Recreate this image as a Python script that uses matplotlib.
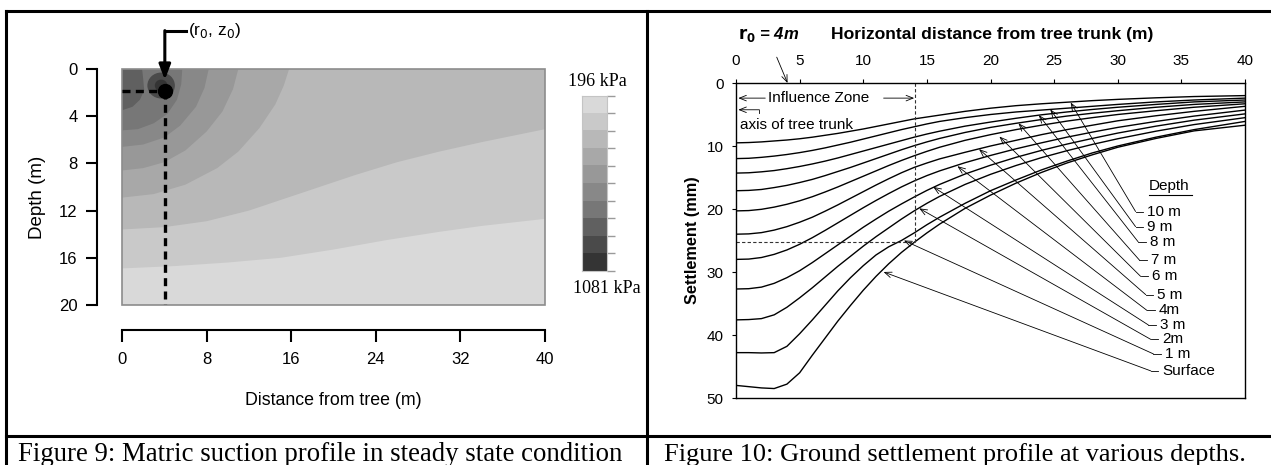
import numpy as np
import matplotlib.pyplot as plt
from matplotlib.lines import Line2D
from matplotlib.patches import Ellipse, Rectangle
from matplotlib.colors import ListedColormap

plt.rcParams['font.family'] = ['Liberation Sans', 'DejaVu Sans']

W, H = 1271, 465

# ---------------- Figure 9 data (distance m, depth m) ----------------
band_colors = ['#d9d9d9', '#c9c9c9', '#b8b8b8', '#a8a8a8', '#989898',
               '#888888', '#777777', '#606060', '#4a4a4a', '#343434']
# boundaries from the deepest to the shallowest; each runs from the left edge
b7 = ([0, 5, 10, 15, 20, 25, 30, 34, 40], [16.9, 16.7, 16.4, 16.0, 15.3, 14.5, 13.8, 13.3, 12.7])
b6 = ([0, 4, 8, 12, 17, 22, 26, 30, 34, 40], [13.6, 13.4, 12.9, 12.0, 10.5, 9.0, 7.9, 7.0, 6.2, 5.1])
b5 = ([0, 3, 6, 9, 11, 13, 14.5, 15.3, 15.8], [10.9, 10.6, 9.8, 8.4, 7.0, 5.0, 3.0, 1.4, 0])
b4 = ([0, 2, 4, 6, 8, 9.5, 10.5, 11.0], [8.6, 8.4, 7.9, 6.9, 5.3, 3.6, 1.7, 0])
b3 = ([0, 2, 4, 5.5, 7, 7.8, 8.2], [6.6, 6.4, 5.8, 4.8, 3.2, 1.6, 0])
b2 = ([0, 1.5, 3, 4.3, 5.2, 5.6, 5.7], [5.2, 5.1, 4.6, 3.8, 2.6, 1.3, 0])
b1 = ([0, 1.0, 1.7, 2.1, 2.0, 1.9], [3.5, 3.2, 2.6, 1.8, 0.8, 0])
boundaries = [b7, b6, b5, b4, b3, b2, b1]
ring_center = (3.7, 1.4)
ring_sizes = [(2.6, 2.2), (1.2, 1.0)]
r0, z0 = 4.05, 1.86
x_ticks_9 = [0, 8, 16, 24, 32, 40]
y_ticks_9 = [0, 4, 8, 12, 16, 20]

# ---------------- Figure 10 data (distance m, settlement mm) ----------------
x_pos = [0, 1, 2, 3, 4, 5, 6, 7, 8, 9, 10, 11, 12, 13, 14, 15, 16, 18, 20, 22, 24, 26, 28, 30, 33, 36, 40]
depth_names = ['10 m', '9 m', '8 m', '7 m', '6 m', '5 m', '4m', '3 m', '2m', '1 m', 'Surface']
settle = [
    [9.5, 9.45, 9.35, 9.2, 9.05, 8.85, 8.6, 8.3, 8.0, 7.65, 7.3, 6.9, 6.5, 6.1, 5.7, 5.4, 5.1, 4.5, 4.0, 3.6, 3.3, 3.05, 2.8, 2.6, 2.35, 2.15, 2.0],
    [12.0, 11.95, 11.8, 11.6, 11.35, 11.05, 10.7, 10.3, 9.85, 9.4, 8.9, 8.4, 7.9, 7.4, 6.95, 6.5, 6.1, 5.5, 5.0, 4.6, 4.3, 4.0, 3.7, 3.4, 3.0, 2.7, 2.4],
    [14.3, 14.25, 14.1, 13.9, 13.6, 13.25, 12.85, 12.4, 11.9, 11.35, 10.8, 10.25, 9.7, 9.15, 8.6, 8.1, 7.65, 6.85, 6.2, 5.6, 5.05, 4.6, 4.2, 3.85, 3.4, 3.0, 2.7],
    [17.1, 17.05, 16.9, 16.6, 16.25, 15.8, 15.3, 14.7, 14.05, 13.4, 12.7, 12.0, 11.3, 10.6, 9.95, 9.35, 8.8, 7.85, 7.05, 6.4, 5.8, 5.25, 4.8, 4.4, 3.85, 3.4, 3.0],
    [20.3, 20.25, 20.05, 19.7, 19.25, 18.7, 18.05, 17.3, 16.5, 15.65, 14.8, 13.95, 13.1, 12.3, 11.55, 10.85, 10.2, 9.1, 8.2, 7.4, 6.7, 6.05, 5.5, 5.0, 4.4, 3.85, 3.3],
    [24.0, 23.95, 23.75, 23.35, 22.8, 22.1, 21.3, 20.35, 19.35, 18.3, 17.25, 16.2, 15.2, 14.25, 13.4, 12.7, 12.05, 11.0, 10.0, 9.1, 8.2, 7.4, 6.7, 6.0, 5.2, 4.5, 3.7],
    [28.0, 27.95, 27.7, 27.2, 26.5, 25.6, 24.55, 23.4, 22.2, 21.0, 19.8, 18.65, 17.55, 16.5, 15.55, 14.7, 13.95, 12.65, 11.5, 10.45, 9.5, 8.6, 7.8, 7.05, 6.1, 5.25, 4.3],
    [32.7, 32.65, 32.4, 31.8, 30.9, 29.8, 28.5, 27.1, 25.7, 24.3, 22.9, 21.6, 20.35, 19.2, 18.1, 17.05, 16.1, 14.45, 13.05, 11.8, 10.7, 9.7, 8.8, 7.95, 6.85, 5.9, 4.9],
    [37.6, 37.55, 37.4, 36.8, 35.6, 34.1, 32.5, 30.8, 29.1, 27.5, 25.9, 24.4, 23.0, 21.6, 20.3, 19.1, 18.0, 16.1, 14.5, 13.1, 11.85, 10.75, 9.75, 8.85, 7.65, 6.6, 5.5],
    [42.8, 42.8, 42.85, 42.8, 41.8, 39.8, 37.6, 35.3, 33.0, 30.9, 29.0, 27.3, 26.0, 25.0, 23.8, 22.5, 21.3, 19.1, 17.1, 15.4, 13.8, 12.4, 11.1, 10.0, 8.6, 7.4, 6.1],
    [48.0, 48.2, 48.4, 48.5, 47.8, 46.0, 43.2, 40.5, 37.8, 35.3, 32.9, 30.7, 28.7, 26.9, 25.3, 23.8, 22.4, 19.9, 17.8, 15.9, 14.2, 12.7, 11.4, 10.2, 8.8, 7.6, 6.7],
]
tips = [(26.3, 3.1), (24.7, 4.2), (23.8, 5.1), (22.2, 6.4), (20.7, 8.5), (19.1, 10.5),
        (17.4, 13.2), (15.5, 16.5), (14.4, 19.9), (13.2, 25.0), (11.6, 30.0)]
label_y = [20.4, 22.8, 25.2, 28.1, 30.7, 33.6, 36.1, 38.4, 40.7, 43.0, 45.7]
label_x = [31.4, 31.4, 31.6, 31.7, 31.8, 32.2, 32.3, 32.4, 32.6, 32.8, 32.6]
zone_x, zone_y = 14.1, 25.3


def rect(x0, y0, x1, y1):
    return [x0 / W, 1 - y1 / H, (x1 - x0) / W, (y1 - y0) / H]


fig = plt.figure(figsize=(W / 100, H / 100), dpi=100)

# table borders
for xs, ys in [((6, 1271), (11, 11)), ((6, 6), (11, 465)), ((647, 647), (11, 465)),
               ((6, 1271), (436, 436))]:
    fig.add_artist(Line2D([x / W for x in xs], [1 - y / H for y in ys], color='black', lw=2.2))

fig.text(320 / W, 1 - 461 / H, 'Figure 9: Matric suction profile in steady state condition',
         family='Liberation Serif', size=19.3, ha='center', va='baseline')
fig.text(955 / W, 1 - 461 / H, 'Figure 10: Ground settlement profile at various depths.',
         family='Liberation Serif', size=19, ha='center', va='baseline')

# ---------------- Figure 9 ----------------
ax1 = fig.add_axes(rect(122, 69, 545, 305))
ax1.set_xlim(0, 40)
ax1.set_ylim(20, 0)
ax1.fill([0, 40, 40, 0], [0, 0, 20, 20], color=band_colors[0], lw=0)
for i, (bx, bz) in enumerate(boundaries):
    xs, zs = list(bx), list(bz)
    if xs[-1] >= 40:
        xs += [40, 0]
        zs += [0, 0]
    else:
        xs += [0]
        zs += [0]
    ax1.fill(xs, zs, color=band_colors[i + 1], lw=0)
for j, (w, h) in enumerate(ring_sizes):
    ax1.add_patch(Ellipse(ring_center, w, h, color=band_colors[8 + j], lw=0))
ax1.add_patch(Rectangle((0, 0), 40, 20, fill=False, ec='#8c8c8c', lw=1.2, clip_on=False))

ax1.plot([0, r0], [z0, z0], color='black', lw=2.4, ls=(0, (2.4, 1.6)))
ax1.plot([r0, r0], [z0, 20], color='black', lw=2.4, ls=(0, (2.4, 1.6)))
ax1.plot([r0], [z0], 'o', color='black', ms=10)
ax1.annotate('', xy=(r0, 0.9), xytext=(r0, -3.25), annotation_clip=False,
             arrowprops=dict(arrowstyle='-|>,head_length=0.9,head_width=0.35', color='black',
                             lw=2.2, shrinkA=0, shrinkB=0))
ax1.plot([r0, 6.05], [-3.25, -3.25], color='black', lw=2.2, clip_on=False)
ax1.text(6.2, -3.25, '(r$_0$, z$_0$)', fontsize=12.5, ha='left', va='center')

for s in ['top', 'right']:
    ax1.spines[s].set_visible(False)
ax1.spines['left'].set_position(('outward', 18))
ax1.spines['bottom'].set_position(('outward', 18))
ax1.spines['left'].set_bounds(0, 20)
ax1.spines['bottom'].set_bounds(0, 40)
for s in ['left', 'bottom']:
    ax1.spines[s].set_linewidth(1.5)
ax1.set_xticks(x_ticks_9)
ax1.set_yticks(y_ticks_9)
ax1.tick_params(axis='y', direction='out', length=8, width=1.5, pad=6, labelsize=12)
ax1.tick_params(axis='x', direction='out', length=8.5, width=1.5, pad=7, labelsize=12)
fig.text(37 / W, 1 - 197 / H, 'Depth (m)', rotation=90, ha='center', va='center', fontsize=13.5)
fig.text(333 / W, 1 - 400 / H, 'Distance from tree (m)', ha='center', va='center', fontsize=12.8)

# colour scale, light at the top
axc = fig.add_axes(rect(582, 96, 607, 271))
axc.imshow(np.arange(10).reshape(-1, 1), cmap=ListedColormap(band_colors), aspect='auto',
           extent=(0, 1, 10, 0), vmin=-0.5, vmax=9.5)
axc.set_xticks([])
axc.set_yticks(np.arange(11))
axc.yaxis.tick_right()
axc.tick_params(axis='y', direction='out', length=6, width=1, color='#9a9a9a', labelright=False)
for s in axc.spines.values():
    s.set_color('#c4c4c4')
fig.text(597 / W, 1 - 81 / H, '196 kPa', family='Liberation Serif', size=13, ha='center', va='center')
fig.text(607 / W, 1 - 288 / H, '1081 kPa', family='Liberation Serif', size=13, ha='center', va='center')

# ---------------- Figure 10 ----------------
ax2 = fig.add_axes(rect(736, 83, 1245, 398))
for ys in settle:
    ax2.plot(x_pos, ys, color='black', lw=1.0)
ax2.set_xlim(0, 40)
ax2.set_ylim(50, 0)
ax2.xaxis.tick_top()
ax2.set_xticks(np.arange(0, 41, 5))
ax2.set_yticks(np.arange(0, 51, 10))
ax2.tick_params(axis='x', direction='out', length=3, pad=8, labelsize=11)
ax2.tick_params(axis='y', direction='out', length=3, pad=6, labelsize=11)
for s in ax2.spines.values():
    s.set_linewidth(1.0)

ax2.plot([zone_x, zone_x], [0, zone_y], color='#333333', lw=0.8, ls=(0, (3, 2)))
ax2.plot([0, zone_x], [zone_y, zone_y], color='#333333', lw=0.8, ls=(0, (3, 2)))

thin = dict(arrowstyle='->,head_length=0.5,head_width=0.2', lw=0.6, color='black',
            shrinkA=0, shrinkB=0)
for name, (tx, ty), lx, ly in zip(depth_names, tips, label_x, label_y):
    ax2.annotate('', xy=(tx, ty), xytext=(lx, ly), arrowprops=thin)
    ax2.plot([lx, lx + 0.6], [ly, ly], color='black', lw=0.6)
    ax2.text(lx + 0.9, ly, name, fontsize=11, ha='left', va='center')
ax2.text(32.4, 16.3, 'Depth', fontsize=11, ha='left', va='center')
ax2.plot([32.45, 35.8], [17.7, 17.7], color='black', lw=0.8)

ax2.annotate('', xy=(0.18, 2.4), xytext=(2.3, 2.4), arrowprops=thin)
ax2.text(2.55, 2.4, 'Influence Zone', fontsize=11, ha='left', va='center')
ax2.annotate('', xy=(14.0, 2.4), xytext=(11.6, 2.4), arrowprops=thin)
ax2.annotate('', xy=(0.18, 4.25), xytext=(1.84, 4.25), arrowprops=thin)
ax2.plot([1.84, 1.84], [4.25, 4.8], color='black', lw=0.6)
ax2.text(0.3, 6.6, 'axis of tree trunk', fontsize=11, ha='left', va='center')
ax2.annotate('', xy=(4.05, 0.0), xytext=(3.2, -4.1), annotation_clip=False, arrowprops=thin)

fig.text(692 / W, 1 - 240 / H, 'Settlement (mm)', rotation=90, ha='center', va='center',
         fontsize=11.7, fontweight='bold')
fig.text(831 / W, 1 - 35 / H, 'Horizontal distance from tree trunk (m)', ha='left', va='center',
         fontsize=12.6, fontweight='bold')
fig.text(738 / W, 1 - 35 / H, r'$\mathbf{r_0}$ = 4m', ha='left', va='center', fontsize=12,
         fontweight='bold', style='italic')

fig.savefig('out.png', dpi=100)
